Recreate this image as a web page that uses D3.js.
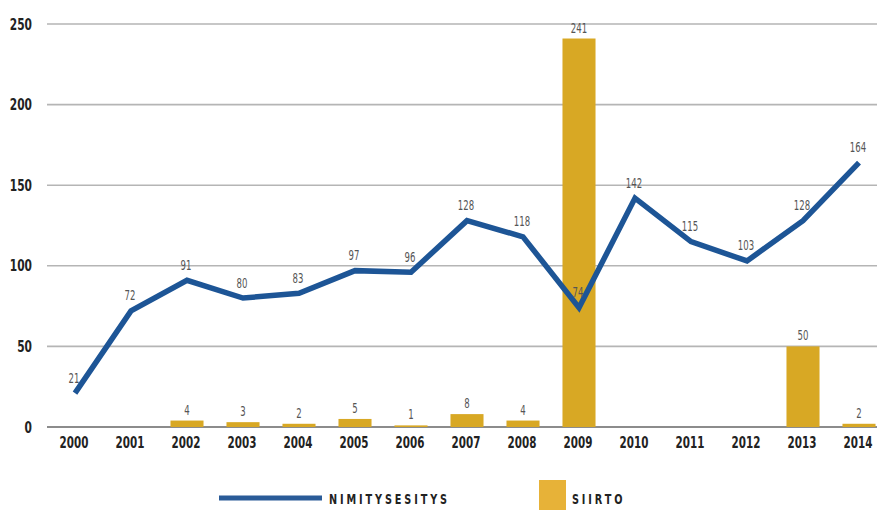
<!DOCTYPE html>
<html>
<head>
<meta charset="utf-8">
<script src="https://cdn.jsdelivr.net/npm/d3@7"></script>
<style>
  body { margin: 0; background: #fff; }
  svg { display: block; }
  .tick-label { font-family: "DejaVu Sans Condensed", "DejaVu Sans", sans-serif; font-stretch: condensed; font-weight: bold; fill: #222; }
  .val-label { font-family: "DejaVu Sans Condensed", "DejaVu Sans", sans-serif; font-stretch: condensed; fill: #555; }
</style>
</head>
<body>
<svg id="chart"></svg>
<script>
const years = ["2000","2001","2002","2003","2004","2005","2006","2007","2008","2009","2010","2011","2012","2013","2014"]
const nimitysesitys = [21, 72, 91, 80, 83, 97, 96, 128, 118, 74, 142, 115, 103, 128, 164]
// siirto: null where no bar is drawn
const siirto = [null, null, 4, 3, 2, 5, 1, 8, 4, 241, null, null, null, 50, 2]
const yTicks = [0, 50, 100, 150, 200, 250]

const width = 877, height = 511
const svg = d3.select("#chart").attr("width", width).attr("height", height)

const x = d3.scaleBand().domain(years).range([47, 887]).paddingInner(0.41).paddingOuter(0.205)
const y = d3.scaleLinear().domain([0, 250]).range([427, 24])
const cx = d => x(d) + x.bandwidth() / 2

const lineColor = "#1d5596"
const barColor = "#d8a824"

// gridlines
svg.append("g")
  .selectAll("line")
  .data(yTicks)
  .join("line")
  .attr("x1", 47).attr("x2", width)
  .attr("y1", d => y(d)).attr("y2", d => y(d))
  .attr("stroke", d => d === 0 ? "#666" : "#b5b5b5")
  .attr("stroke-width", 1.6)

// y labels
svg.append("g")
  .selectAll("text")
  .data(yTicks)
  .join("text")
  .attr("class", "tick-label")
  .attr("transform", d => `translate(32,${y(d) + 5.5}) scale(0.74,1)`)
  .attr("text-anchor", "end")
  .attr("font-size", 16)
  .text(d => d)

// x labels
svg.append("g")
  .selectAll("text")
  .data(years)
  .join("text")
  .attr("class", "tick-label")
  .attr("transform", d => `translate(${cx(d) - 1},448) scale(0.72,1)`)
  .attr("text-anchor", "middle")
  .attr("font-size", 16)
  .text(d => d)

// bars
const barData = years.map((yr, i) => ({ yr, v: siirto[i] })).filter(d => d.v != null)
svg.append("g")
  .selectAll("rect")
  .data(barData)
  .join("rect")
  .attr("x", d => x(d.yr))
  .attr("width", x.bandwidth())
  .attr("y", d => y(d.v))
  .attr("height", d => y(0) - y(d.v))
  .attr("fill", barColor)

svg.append("g")
  .selectAll("text")
  .data(barData)
  .join("text")
  .attr("class", "val-label")
  .attr("transform", d => `translate(${cx(d.yr)},${y(d.v) - 6}) scale(0.68,1)`)
  .attr("text-anchor", "middle")
  .attr("font-size", 14)
  .text(d => d.v)

// line
const pts = years.map((yr, i) => ({ yr, v: nimitysesitys[i] }))
const line = d3.line().x(d => cx(d.yr)).y(d => y(d.v))
svg.append("path")
  .datum(pts)
  .attr("d", line)
  .attr("fill", "none")
  .attr("stroke", lineColor)
  .attr("stroke-width", 5.5)
  .attr("stroke-linejoin", "miter")

svg.append("g")
  .selectAll("text")
  .data(pts)
  .join("text")
  .attr("class", "val-label")
  .attr("transform", d => `translate(${cx(d.yr) - 1},${y(d.v) - 10.5}) scale(0.68,1)`)
  .attr("text-anchor", "middle")
  .attr("font-size", 14)
  .text(d => d.v)

// legend
const lg = svg.append("g")
lg.append("line")
  .attr("x1", 219).attr("x2", 322).attr("y1", 498).attr("y2", 498)
  .attr("stroke", "#2a5b98").attr("stroke-width", 5)
lg.append("text")
  .attr("class", "tick-label")
  .attr("transform", "translate(329,504) scale(0.8,1)")
  .attr("font-size", 13.5)
  .attr("letter-spacing", 3.6)
  .text("NIMITYSESITYS")
lg.append("rect")
  .attr("x", 539).attr("y", 480).attr("width", 27).attr("height", 30)
  .attr("fill", "#e7b238")
lg.append("text")
  .attr("class", "tick-label")
  .attr("transform", "translate(572,504) scale(0.8,1)")
  .attr("font-size", 13.5)
  .attr("letter-spacing", 3.6)
  .text("SIIRTO")
</script>
</body>
</html>
